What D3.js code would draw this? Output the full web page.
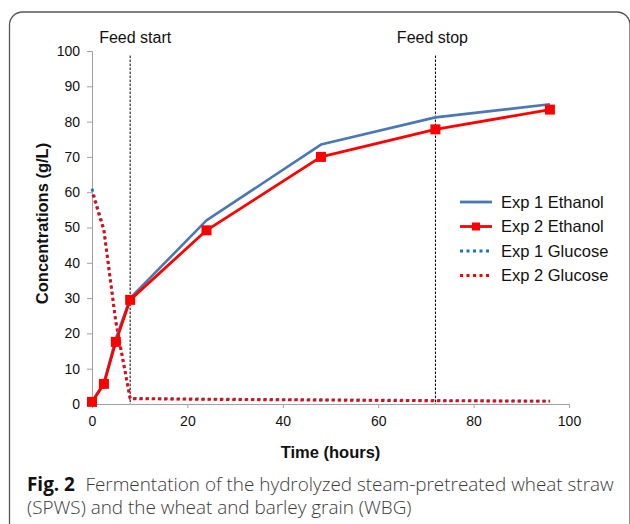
<!DOCTYPE html>
<html>
<head>
<meta charset="utf-8">
<script src="https://cdn.jsdelivr.net/npm/d3@7"></script>
<style>
	body { margin: 0; background: #fff; }
	svg { display: block; }
</style>
</head>
<body>
<svg id="chart" width="630" height="524"></svg>
<script>

// data
let timeHours = [0, 2.5, 5, 8, 24, 48, 72, 96];
let exp1Ethanol = [0.5, 6, 18.5, 30, 52, 73.5, 81.2, 84.9];
let exp2Ethanol = [0.6, 5.7, 17.6, 29.5, 49.2, 70.0, 77.8, 83.4];
let exp1Glucose = [61, 49.5, 23.5, 1.6, 1.4, 1.2, 1.0, 0.8];
let exp2Glucose = [60.2, 49, 23, 1.5, 1.3, 1.1, 0.9, 0.8];
let feedMarks = [{ t: 8, label: 'Feed start' }, { t: 72, label: 'Feed stop' }];
let xTicks = [0, 20, 40, 60, 80, 100];
let yTicks = [0, 10, 20, 30, 40, 50, 60, 70, 80, 90, 100];
let legendNames = ['Exp 1 Ethanol', 'Exp 2 Ethanol', 'Exp 1 Glucose', 'Exp 2 Glucose'];

let blue = '#4a78b4';
let blueDot = '#1a74c4';
let red = '#ff0000';
let axisGrey = '#a0a0a0';
let font = "'Liberation Sans', Arial, sans-serif";

let svg = d3.select('#chart');

// frame round the figure
svg.append('path')
	.attr('d', 'M9.5,524 L9.5,25 A13,13 0 0 1 22.5,12 L617,12 A13,13 0 0 1 630,25 L630,524')
	.attr('fill', 'none')
	.attr('stroke', '#555')
	.attr('stroke-width', 1.3);

let x = d3.scaleLinear().domain([0, 100]).range([92, 569]);
let y = d3.scaleLinear().domain([0, 100]).range([404, 51]);

// axes
let yAxis = svg.append('g')
	.attr('transform', `translate(${x(0)},0)`)
	.call(d3.axisLeft(y).tickValues(yTicks).tickSize(5).tickPadding(7));
let xAxis = svg.append('g')
	.attr('transform', `translate(0,${y(0)})`)
	.call(d3.axisBottom(x).tickValues(xTicks).tickSize(4).tickPadding(8));
[xAxis, yAxis].forEach(a => {
	a.selectAll('path, line').attr('stroke', axisGrey);
	a.selectAll('text')
		.attr('fill', '#111')
		.style('font-family', font)
		.style('font-size', '14px');
});

// feed start / stop markers
feedMarks.forEach(f => {
	svg.append('line')
		.attr('x1', x(f.t)).attr('x2', x(f.t))
		.attr('y1', y(98.7)).attr('y2', y(0))
		.attr('stroke', '#000')
		.attr('stroke-width', 1)
		.attr('stroke-dasharray', '2.5,1.5');
	svg.append('text')
		.attr('x', x(f.t) + (f.t < 50 ? 5 : -3))
		.attr('y', 43)
		.attr('text-anchor', 'middle')
		.style('font-family', font)
		.style('font-size', '16px')
		.attr('fill', '#111')
		.text(f.label);
});

let pts = vals => vals.map((v, i) => [timeHours[i], v]);
let line = d3.line().x(d => x(d[0])).y(d => y(d[1]));

// glucose (dotted)
svg.append('path')
	.attr('d', line(pts(exp1Glucose)))
	.attr('fill', 'none').attr('stroke', blueDot)
	.attr('stroke-width', 2.8).attr('stroke-dasharray', '3,3.2');
svg.append('path')
	.attr('d', line(pts(exp2Glucose)))
	.attr('fill', 'none').attr('stroke', red)
	.attr('stroke-width', 2.8).attr('stroke-dasharray', '3,3.2')
	.attr('stroke-dashoffset', 3);

// ethanol
svg.append('path')
	.attr('d', line(pts(exp1Ethanol)))
	.attr('fill', 'none').attr('stroke', blue)
	.attr('stroke-width', 2.6).attr('stroke-linejoin', 'round');
svg.append('path')
	.attr('d', line(pts(exp2Ethanol)))
	.attr('fill', 'none').attr('stroke', red)
	.attr('stroke-width', 2.8).attr('stroke-linejoin', 'round');
svg.append('g').selectAll('rect')
	.data(pts(exp2Ethanol))
	.join('rect')
	.attr('x', d => x(d[0]) - 5)
	.attr('y', d => y(d[1]) - 5)
	.attr('width', 10).attr('height', 10)
	.attr('fill', red);

// axis titles
svg.append('text')
	.attr('x', (x(0) + x(100)) / 2)
	.attr('y', 457.5)
	.attr('text-anchor', 'middle')
	.style('font-family', font).style('font-size', '16.5px').style('font-weight', 'bold')
	.attr('fill', '#111')
	.text('Time (hours)');
svg.append('text')
	.attr('transform', `translate(48,${(y(0) + y(100)) / 2 - 4}) rotate(-90)`)
	.attr('text-anchor', 'middle')
	.style('font-family', font).style('font-size', '16.5px').style('font-weight', 'bold')
	.attr('fill', '#111')
	.text('Concentrations (g/L)');

// legend
let legend = svg.append('g').attr('transform', 'translate(460,202)');
let legendStyle = [
	{ stroke: blue, dash: null, marker: false },
	{ stroke: red, dash: null, marker: true },
	{ stroke: blueDot, dash: '3,3.5', marker: false },
	{ stroke: red, dash: '3,3.5', marker: false }
];
legendNames.forEach((name, i) => {
	let g = legend.append('g').attr('transform', `translate(0,${i * 24.5})`);
	let s = legendStyle[i];
	g.append('line')
		.attr('x1', 0).attr('x2', 32).attr('y1', 0).attr('y2', 0)
		.attr('stroke', s.stroke).attr('stroke-width', 2.8)
		.attr('stroke-dasharray', s.dash);
	if (s.marker) {
		g.append('rect').attr('x', 12).attr('y', -4).attr('width', 8).attr('height', 8).attr('fill', red);
	}
	g.append('text')
		.attr('x', 41).attr('y', 5.8)
		.style('font-family', font).style('font-size', '16.5px')
		.attr('fill', '#111')
		.text(name);
});

// caption
let caption = svg.append('g').style('font-family', "'Open Sans', sans-serif").style('font-size', '18.9px');
let line1 = caption.append('text').attr('x', 27).attr('y', 490.5).attr('fill', '#3a3a3a').style('font-weight', 300);
line1.append('tspan').style('font-weight', 'bold').attr('fill', '#111').text('Fig. 2');
line1.append('tspan').attr('dx', 10.5).text('Fermentation of the hydrolyzed steam-pretreated wheat straw');
caption.append('text').attr('x', 27).attr('y', 514).attr('fill', '#3a3a3a').style('font-weight', 300)
	.text('(SPWS) and the wheat and barley grain (WBG)');

</script>
</body>
</html>
